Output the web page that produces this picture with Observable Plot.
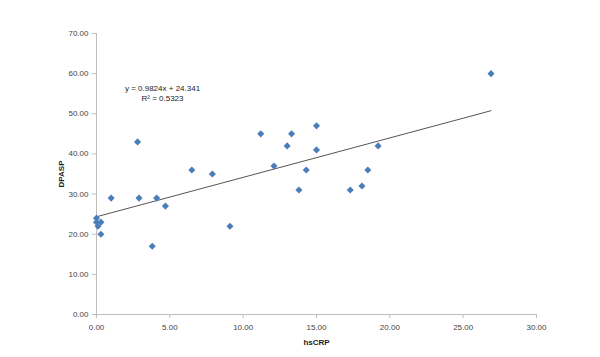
<!DOCTYPE html>
<html>
<head>
<meta charset="utf-8">
<script src="https://cdn.jsdelivr.net/npm/d3@7"></script>
<script src="https://cdn.jsdelivr.net/npm/@observablehq/plot@0.6"></script>
<style>
  html, body { margin: 0; padding: 0; background: #fff; }
  #chart svg { display: block; }
  g[aria-label="x-axis label"] text, g[aria-label="y-axis label"] text { font-weight: bold; fill: #222; }
</style>
</head>
<body>
<div id="chart"></div>
<script>
// Data
const hsCRP = [0.0, 0.0, 0.3, 0.1, 0.3, 1.0, 2.9, 4.1, 4.7, 3.8, 6.5, 7.9, 9.1, 2.8,
               11.2, 13.3, 15.0, 13.0, 15.0, 12.1, 14.3, 13.8, 17.3, 18.1, 18.5, 19.2, 26.9];
const DPASP = [24, 23, 23, 22, 20, 29, 29, 29, 27, 17, 36, 35, 22, 43,
               45, 45, 47, 42, 41, 37, 36, 31, 31, 32, 36, 42, 60];
const slope = 0.9824;
const intercept = 24.341;
const rSquared = 0.5323;
const xTicks = [0, 5, 10, 15, 20, 25, 30];
const yTicks = [0, 10, 20, 30, 40, 50, 60, 70];

const points = hsCRP.map((x, i) => ({x, y: DPASP[i]}));
const xMax = d3.max(hsCRP);
const trend = [0, xMax].map(x => ({x, y: slope * x + intercept}));
const annotation = [{x: 4.5, y: 55.2, text: `y = ${slope}x + ${intercept}\nR² = ${rSquared}`}];

const chart = Plot.plot({
  width: 600,
  height: 357,
  marginLeft: 96,
  marginRight: 64,
  marginTop: 33,
  marginBottom: 43,
  style: {fontFamily: "'Liberation Sans', Arial, sans-serif", fontSize: "8px", color: "#444", background: "#fff"},
  x: {domain: [0, 30]},
  y: {domain: [0, 70]},
  marks: [
    Plot.ruleY([0], {stroke: "#bdbdbd"}),
    Plot.ruleX([0], {stroke: "#bdbdbd"}),
    Plot.axisX({ticks: xTicks, tickFormat: d3.format(".2f"), tickSize: 4, stroke: "#bdbdbd", tickPadding: 6,
                label: "hsCRP", labelAnchor: "center", labelArrow: "none", labelOffset: 30}),
    Plot.axisY({ticks: yTicks, tickFormat: d3.format(".2f"), tickSize: 4, stroke: "#bdbdbd", tickPadding: 4,
                label: "DPASP", labelAnchor: "center", labelArrow: "none", labelOffset: 38}),
    Plot.line(trend, {x: "x", y: "y", stroke: "#555", strokeWidth: 1}),
    Plot.dot(points, {x: "x", y: "y", symbol: "diamond2", r: 3.2, fill: "#4a7ebb", stroke: "none"}),
    Plot.text(annotation, {x: "x", y: "y", text: "text", fontSize: 8, lineHeight: 1.3, fill: "#222"})
  ]
});
document.getElementById("chart").appendChild(chart);
</script>
</body>
</html>
